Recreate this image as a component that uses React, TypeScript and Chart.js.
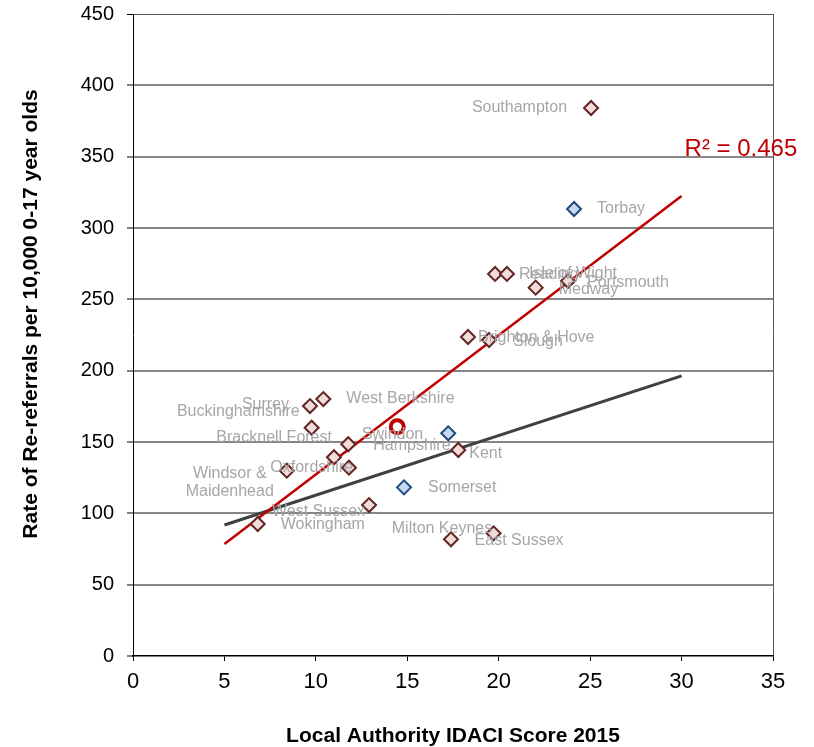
import React, { useEffect, useRef } from "react";
import { Chart, registerables } from "chart.js";

Chart.register(...registerables);

// ---------- Data ----------
const seNames = [
  "Southampton", "Reading", "Isle of Wight", "Medway", "Portsmouth",
  "Brighton & Hove", "Slough", "West Berkshire", "Surrey", "Buckinghamshire",
  "Hampshire", "Bracknell Forest", "Oxfordshire", "Windsor & Maidenhead",
  "West Sussex", "Wokingham", "Kent", "Milton Keynes", "East Sussex",
];
const seX = [25.05, 19.8, 20.45, 22.02, 23.79, 18.32, 19.47, 10.41, 9.68, 9.77, 11.77, 10.99, 11.81, 8.41, 12.91, 6.82, 17.79, 17.39, 19.72];
const seY = [384.1, 267.8, 267.8, 258.2, 262.9, 223.6, 221.5, 180.1, 175.2, 160.0, 148.4, 139.3, 132.0, 129.9, 105.8, 92.5, 144.4, 81.8, 86.0];

const swNames = ["Torbay", "Swindon", "Somerset"];
const swX = [24.12, 17.24, 14.82];
const swY = [313.3, 156.1, 118.2];

const highlightX = [14.45];
const highlightY = [160.7];

const trendX = [5, 30];
const seTrendY = [78.5, 322.4];
const englandTrendY = [91.8, 196.3];

const xTicks = [0, 5, 10, 15, 20, 25, 30, 35];
const yTicks = [0, 50, 100, 150, 200, 250, 300, 350, 400, 450];

const r2Text = "R² = 0.465";
const xTitle = "Local Authority IDACI Score 2015";
const yTitle = "Rate of Re-referrals per 10,000 0-17 year olds";

// ---------- Label placement (styling only) ----------
type LabelStyle = { dx: number; dy: number; align: CanvasTextAlign };
const labelStyles: Record<string, LabelStyle> = {
  "Southampton": { dx: -24, dy: 0, align: "right" },
  "Reading": { dx: 24, dy: 1, align: "left" },
  "Isle of Wight": { dx: 22, dy: 0, align: "left" },
  "Medway": { dx: 23, dy: 2, align: "left" },
  "Portsmouth": { dx: 19, dy: 2, align: "left" },
  "Brighton & Hove": { dx: 10, dy: 1, align: "left" },
  "Slough": { dx: 24, dy: 2, align: "left" },
  "West Berkshire": { dx: 23, dy: 0, align: "left" },
  "Surrey": { dx: -21, dy: -1, align: "right" },
  "Buckinghamshire": { dx: -12, dy: -16, align: "right" },
  "Hampshire": { dx: 25, dy: 1, align: "left" },
  "Bracknell Forest": { dx: -2, dy: -20, align: "right" },
  "Oxfordshire": { dx: 4, dy: 0, align: "right" },
  "Windsor & Maidenhead": { dx: -57, dy: 12, align: "center" },
  "West Sussex": { dx: -4, dy: 7, align: "right" },
  "Wokingham": { dx: 23, dy: 1, align: "left" },
  "Kent": { dx: 11, dy: 4, align: "left" },
  "Milton Keynes": { dx: -9, dy: -11, align: "center" },
  "East Sussex": { dx: -19, dy: 7, align: "left" },
  "Torbay": { dx: 23, dy: 0, align: "left" },
  "Swindon": { dx: -25, dy: 1, align: "right" },
  "Somerset": { dx: 24, dy: 0, align: "left" },
};
const multiLine: Record<string, string[]> = {
  "Windsor & Maidenhead": ["Windsor &", "Maidenhead"],
};

const FONT = "'Liberation Sans', Arial, Helvetica, sans-serif";

const pointLabelsPlugin = {
  id: "pointLabels",
  afterDatasetsDraw(chart: any) {
    const ctx: CanvasRenderingContext2D = chart.ctx;
    ctx.save();
    ctx.font = `16px ${FONT}`;
    ctx.fillStyle = "#A6A6A6";
    ctx.textBaseline = "middle";
    const groups: [number, string[]][] = [[0, seNames], [1, swNames]];
    groups.forEach(([di, names]) => {
      const meta = chart.getDatasetMeta(di);
      meta.data.forEach((el: any, i: number) => {
        const name = names[i];
        const st = labelStyles[name] || { dx: 12, dy: 0, align: "left" };
        ctx.textAlign = st.align;
        const lines = multiLine[name] || [name];
        const lh = 18;
        const y0 = el.y + st.dy - ((lines.length - 1) * lh) / 2;
        lines.forEach((ln, k) => ctx.fillText(ln, el.x + st.dx, y0 + k * lh));
      });
    });
    // R² label next to end of SE trend line
    const tMeta = chart.getDatasetMeta(3);
    const last = tMeta.data[tMeta.data.length - 1];
    if (last) {
      ctx.font = `24px ${FONT}`;
      ctx.fillStyle = "#C00000";
      ctx.textAlign = "left";
      ctx.fillText(r2Text, last.x + 3, last.y - 47);
    }
    ctx.restore();
  },
};

const yTitlePlugin = {
  id: "yTitle",
  afterDraw(chart: any) {
    const ctx: CanvasRenderingContext2D = chart.ctx;
    ctx.save();
    ctx.translate(31, chart.chartArea.top + (chart.chartArea.bottom - chart.chartArea.top) / 2 - 21);
    ctx.rotate(-Math.PI / 2);
    ctx.font = `bold 21px ${FONT}`;
    ctx.fillStyle = "#000";
    ctx.textAlign = "center";
    ctx.textBaseline = "middle";
    ctx.fillText(yTitle, 0, 0);
    ctx.restore();
  },
};

export default function App() {
  const ref = useRef<HTMLCanvasElement | null>(null);

  useEffect(() => {
    if (!ref.current) return;
    Chart.defaults.font.family = FONT;
    const chart = new Chart(ref.current, {
      type: "scatter",
      data: {
        datasets: [
          {
            label: "South East",
            data: seX.map((x, i) => ({ x, y: seY[i] })),
            pointStyle: "rectRot",
            pointRadius: 7,
            pointBackgroundColor: "#F2DCDB",
            pointBorderColor: "#632523",
            pointBorderWidth: 2,
          } as any,
          {
            label: "South West",
            data: swX.map((x, i) => ({ x, y: swY[i] })),
            pointStyle: "rectRot",
            pointRadius: 7,
            pointBackgroundColor: "#C6D9F1",
            pointBorderColor: "#1F497D",
            pointBorderWidth: 2,
          } as any,
          {
            label: "Highlight",
            data: highlightX.map((x, i) => ({ x, y: highlightY[i] })),
            pointStyle: "circle",
            pointRadius: 6.5,
            pointBackgroundColor: "#FFFFFF",
            pointBorderColor: "#C00000",
            pointBorderWidth: 4,
          } as any,
          {
            type: "line",
            label: "South East trend",
            data: trendX.map((x, i) => ({ x, y: seTrendY[i] })),
            borderColor: "#C00000",
            borderWidth: 2.5,
            pointRadius: 0,
            showLine: true,
            fill: false,
          } as any,
          {
            type: "line",
            label: "England trend",
            data: trendX.map((x, i) => ({ x, y: englandTrendY[i] })),
            borderColor: "#404040",
            borderWidth: 3,
            pointRadius: 0,
            showLine: true,
            fill: false,
          } as any,
        ],
      },
      options: {
        animation: false,
        responsive: false,
        devicePixelRatio: 1,
        layout: { padding: { left: 0, top: 14, right: 41, bottom: 0 } },
        plugins: { legend: { display: false }, tooltip: { enabled: false } },
        scales: {
          x: {
            type: "linear",
            min: 0,
            max: 35,
            afterBuildTicks: (s: any) => {
              s.ticks = xTicks.map((v) => ({ value: v }));
            },
            afterFit: (s: any) => {
              s.height = 91;
              s.paddingLeft = 0;
              s.paddingRight = 0;
            },
            ticks: { color: "#000", font: { size: 22 }, padding: 8, maxRotation: 0 },
            grid: {
              color: (c: any) => (c.tick && c.tick.value === 35 ? "#595959" : "rgba(0,0,0,0)"),
              lineWidth: 1,
              tickColor: "#000",
              tickLength: 5,
              tickWidth: 1,
            },
            border: { color: "#000", width: 1.5 },
            title: {
              display: true,
              text: xTitle,
              color: "#000",
              font: { size: 21, weight: "bold", lineHeight: 1 },
              padding: { top: 0, bottom: 0 },
            },
          },
          y: {
            type: "linear",
            min: 0,
            max: 450,
            afterBuildTicks: (s: any) => {
              s.ticks = yTicks.map((v) => ({ value: v }));
            },
            afterFit: (s: any) => {
              s.width = 133;
              s.paddingTop = 0;
              s.paddingBottom = 0;
            },
            ticks: { color: "#000", font: { size: 20 }, padding: 13 },
            grid: {
              color: (c: any) =>
                c.tick && c.tick.value === 0 ? "rgba(0,0,0,0)" : c.tick && c.tick.value === 450 ? "#595959" : "#868686",
              lineWidth: (c: any) => (c.tick && c.tick.value === 450 ? 1 : 2),
              tickColor: "#000",
              tickLength: 6,
              tickWidth: 1,
            },
            border: { color: "#000", width: 1 },
          },
        },
      },
      plugins: [pointLabelsPlugin, yTitlePlugin],
    } as any);
    return () => chart.destroy();
  }, []);

  return (
    <div style={{ position: "absolute", left: 0, top: 0, width: 814, height: 747, background: "#fff" }}>
      <canvas ref={ref} width={814} height={747} style={{ width: 814, height: 747, display: "block" }} />
    </div>
  );
}
